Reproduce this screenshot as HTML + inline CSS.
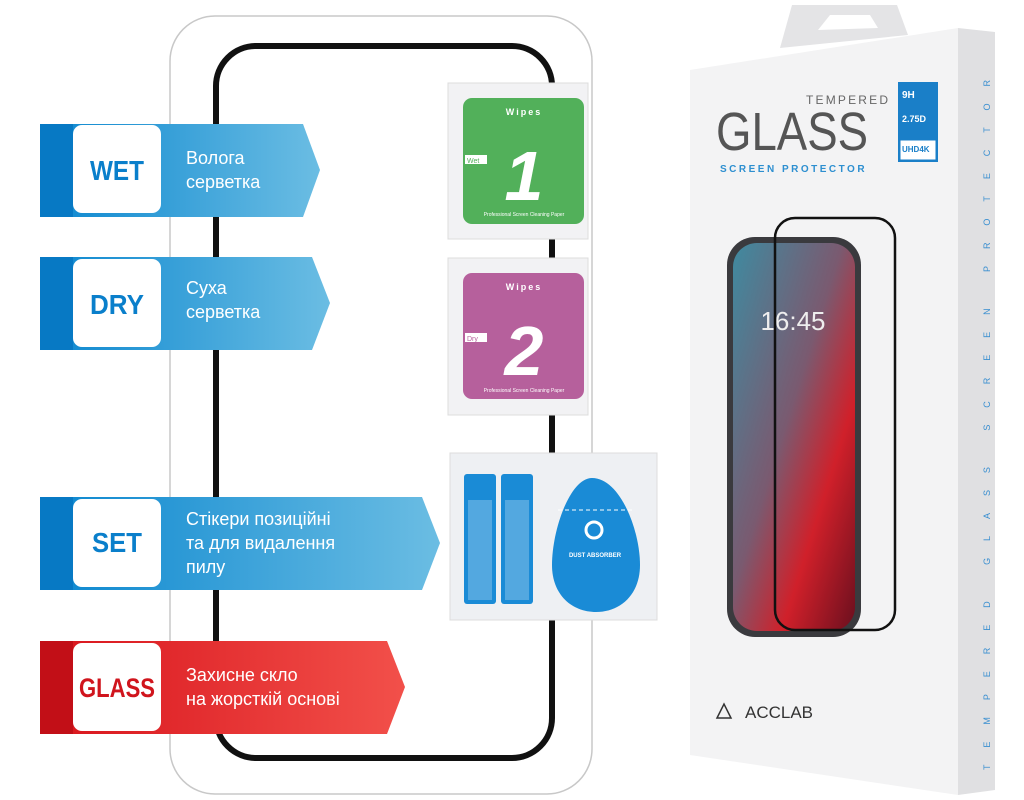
<!DOCTYPE html>
<html><head><meta charset="utf-8"><style>
body{margin:0;width:1024px;height:800px;background:#fff;overflow:hidden;font-family:"Liberation Sans","DejaVu Sans",sans-serif}
svg{position:absolute;left:0;top:0}
</style></head><body>
<svg width="1024" height="800" viewBox="0 0 1024 800" xmlns="http://www.w3.org/2000/svg">
<defs>
<linearGradient id="bl" x1="0" x2="1"><stop offset="0" stop-color="#0a86cf"/><stop offset="1" stop-color="#6bbde3"/></linearGradient>
<linearGradient id="rd" x1="0" x2="1"><stop offset="0" stop-color="#d8141c"/><stop offset="1" stop-color="#f2504a"/></linearGradient>
<linearGradient id="scr" x1="0" y1="0" x2="1" y2="1"><stop offset="0" stop-color="#3f8aa0"/><stop offset="0.45" stop-color="#7a5a70"/><stop offset="0.7" stop-color="#d0202a"/><stop offset="1" stop-color="#6a0f1e"/></linearGradient>
</defs>
<rect x="170" y="16" width="422" height="778" rx="45" fill="none" stroke="#c8c8c8" stroke-width="1.5"/>
<rect x="216" y="46" width="336" height="712" rx="40" fill="none" stroke="#111" stroke-width="6"/>

<g>
<polygon points="40,124 303,124 320,170 303,217 40,217" fill="url(#bl)"/>
<rect x="40" y="124" width="33" height="93" fill="#0779c4"/>
<rect x="73" y="125" width="88" height="88" rx="9" fill="#fff"/>
<text x="117" y="180" font-size="28" font-weight="bold" fill="#0a7fcb" text-anchor="middle" textLength="54" lengthAdjust="spacingAndGlyphs">WET</text>
<text x="186" y="164" font-size="18" fill="#fff">Волога</text>
<text x="186" y="188" font-size="18" fill="#fff">серветка</text>

<polygon points="40,257 312,257 330,303 312,350 40,350" fill="url(#bl)"/>
<rect x="40" y="257" width="33" height="93" fill="#0779c4"/>
<rect x="73" y="259" width="88" height="88" rx="9" fill="#fff"/>
<text x="117" y="314" font-size="28" font-weight="bold" fill="#0a7fcb" text-anchor="middle" textLength="54" lengthAdjust="spacingAndGlyphs">DRY</text>
<text x="186" y="294" font-size="18" fill="#fff">Суха</text>
<text x="186" y="318" font-size="18" fill="#fff">серветка</text>

<polygon points="40,497 422,497 440,543 422,590 40,590" fill="url(#bl)"/>
<rect x="40" y="497" width="33" height="93" fill="#0779c4"/>
<rect x="73" y="499" width="88" height="88" rx="9" fill="#fff"/>
<text x="117" y="552" font-size="28" font-weight="bold" fill="#0a7fcb" text-anchor="middle" textLength="50" lengthAdjust="spacingAndGlyphs">SET</text>
<text x="186" y="525" font-size="18" fill="#fff">Стікери позиційні</text>
<text x="186" y="549" font-size="18" fill="#fff">та для видалення</text>
<text x="186" y="573" font-size="18" fill="#fff">пилу</text>

<polygon points="40,641 387,641 405,687 387,734 40,734" fill="url(#rd)"/>
<rect x="40" y="641" width="33" height="93" fill="#c20f17"/>
<rect x="73" y="643" width="88" height="88" rx="9" fill="#fff"/>
<text x="117" y="697" font-size="27" font-weight="bold" fill="#d0151d" text-anchor="middle" textLength="76" lengthAdjust="spacingAndGlyphs">GLASS</text>
<text x="186" y="681" font-size="18" fill="#fff">Захисне скло</text>
<text x="186" y="705" font-size="18" fill="#fff">на жорсткій основі</text>
</g>

<rect x="448" y="83" width="140" height="156" fill="#f2f2f4" stroke="#ddd"/>
<rect x="463" y="98" width="121" height="126" rx="9" fill="#52b05a"/>
<text x="524" y="115" font-size="9" font-weight="bold" fill="#fff" text-anchor="middle" letter-spacing="2">Wipes</text>
<text x="524" y="200" font-size="70" font-weight="bold" font-style="italic" fill="#fff" text-anchor="middle">1</text>
<rect x="465" y="155" width="22" height="9" fill="#fff"/><text x="467" y="163" font-size="7" fill="#52b05a">Wet</text>
<text x="524" y="216" font-size="5" fill="#fff" text-anchor="middle">Professional Screen Cleaning Paper</text>

<rect x="448" y="258" width="140" height="157" fill="#f2f2f4" stroke="#ddd"/>
<rect x="463" y="273" width="121" height="126" rx="9" fill="#b6609c"/>
<text x="524" y="290" font-size="9" font-weight="bold" fill="#fff" text-anchor="middle" letter-spacing="2">Wipes</text>
<text x="524" y="375" font-size="70" font-weight="bold" font-style="italic" fill="#fff" text-anchor="middle">2</text>
<rect x="465" y="333" width="22" height="9" fill="#fff"/><text x="467" y="341" font-size="7" fill="#b6609c">Dry</text>
<text x="524" y="392" font-size="5" fill="#fff" text-anchor="middle">Professional Screen Cleaning Paper</text>

<rect x="450" y="453" width="207" height="167" fill="#eef0f3" stroke="#ddd"/>
<rect x="464" y="474" width="32" height="130" rx="3" fill="#1a8bd6"/>
<rect x="468" y="500" width="24" height="100" fill="#fff" opacity="0.25"/>
<rect x="501" y="474" width="32" height="130" rx="3" fill="#1a8bd6"/>
<rect x="505" y="500" width="24" height="100" fill="#fff" opacity="0.25"/>
<path d="M592,478 C620,478 640,530 640,565 C640,595 620,612 596,612 C572,612 552,595 552,565 C552,530 570,478 592,478Z" fill="#1a8bd6"/>
<line x1="558" y1="510" x2="634" y2="510" stroke="#fff" stroke-dasharray="4,3"/>
<circle cx="594" cy="530" r="8" fill="none" stroke="#fff" stroke-width="3"/>
<text x="595" y="557" font-size="6" font-weight="bold" fill="#fff" text-anchor="middle">DUST ABSORBER</text>

<polygon points="780,48 792,5 897,5 908,35" fill="#e4e4e6"/>
<polygon points="818,30 830,15 870,15 878,28" fill="#fff"/>
<polygon points="690,70 958,28 958,795 690,755" fill="#f3f3f4"/>
<polygon points="958,28 995,32 995,790 958,795" fill="#e0e0e2"/>
<text x="806" y="104" font-size="12" fill="#666" letter-spacing="4" textLength="86">TEMPERED</text>
<text x="716" y="150" font-size="54" fill="#555" textLength="152" lengthAdjust="spacingAndGlyphs">GLASS</text>
<text x="720" y="172" font-size="10" fill="#2d8fd0" letter-spacing="2.5" font-weight="bold">SCREEN PROTECTOR</text>
<rect x="898" y="82" width="40" height="80" fill="#1a7fc8"/>
<rect x="900" y="140" width="36" height="20" fill="#fff" stroke="#1a7fc8"/>
<text x="902" y="98" font-size="10" fill="#fff" font-weight="bold">9H</text>
<text x="902" y="122" font-size="9" fill="#fff" font-weight="bold">2.75D</text>
<text x="902" y="152" font-size="8" fill="#1a7fc8" font-weight="bold">UHD4K</text>
<text transform="translate(990,770) rotate(-90)" font-size="9" fill="#3a8fd0" textLength="690" lengthAdjust="spacing">TEMPERED GLASS SCREEN PROTECTOR</text>
<rect x="727" y="237" width="134" height="400" rx="28" fill="#3a3a3e"/>
<rect x="733" y="243" width="122" height="388" rx="24" fill="url(#scr)"/>
<text x="793" y="330" font-size="26" fill="#eee" text-anchor="middle">16:45</text>
<rect x="775" y="218" width="120" height="412" rx="20" fill="none" stroke="#111" stroke-width="2.5"/>
<text x="745" y="718" font-size="17" fill="#333">ACCLAB</text>
<polygon points="717,718 724,704 731,718" fill="none" stroke="#333" stroke-width="1.5"/>
</svg>
</body></html>
